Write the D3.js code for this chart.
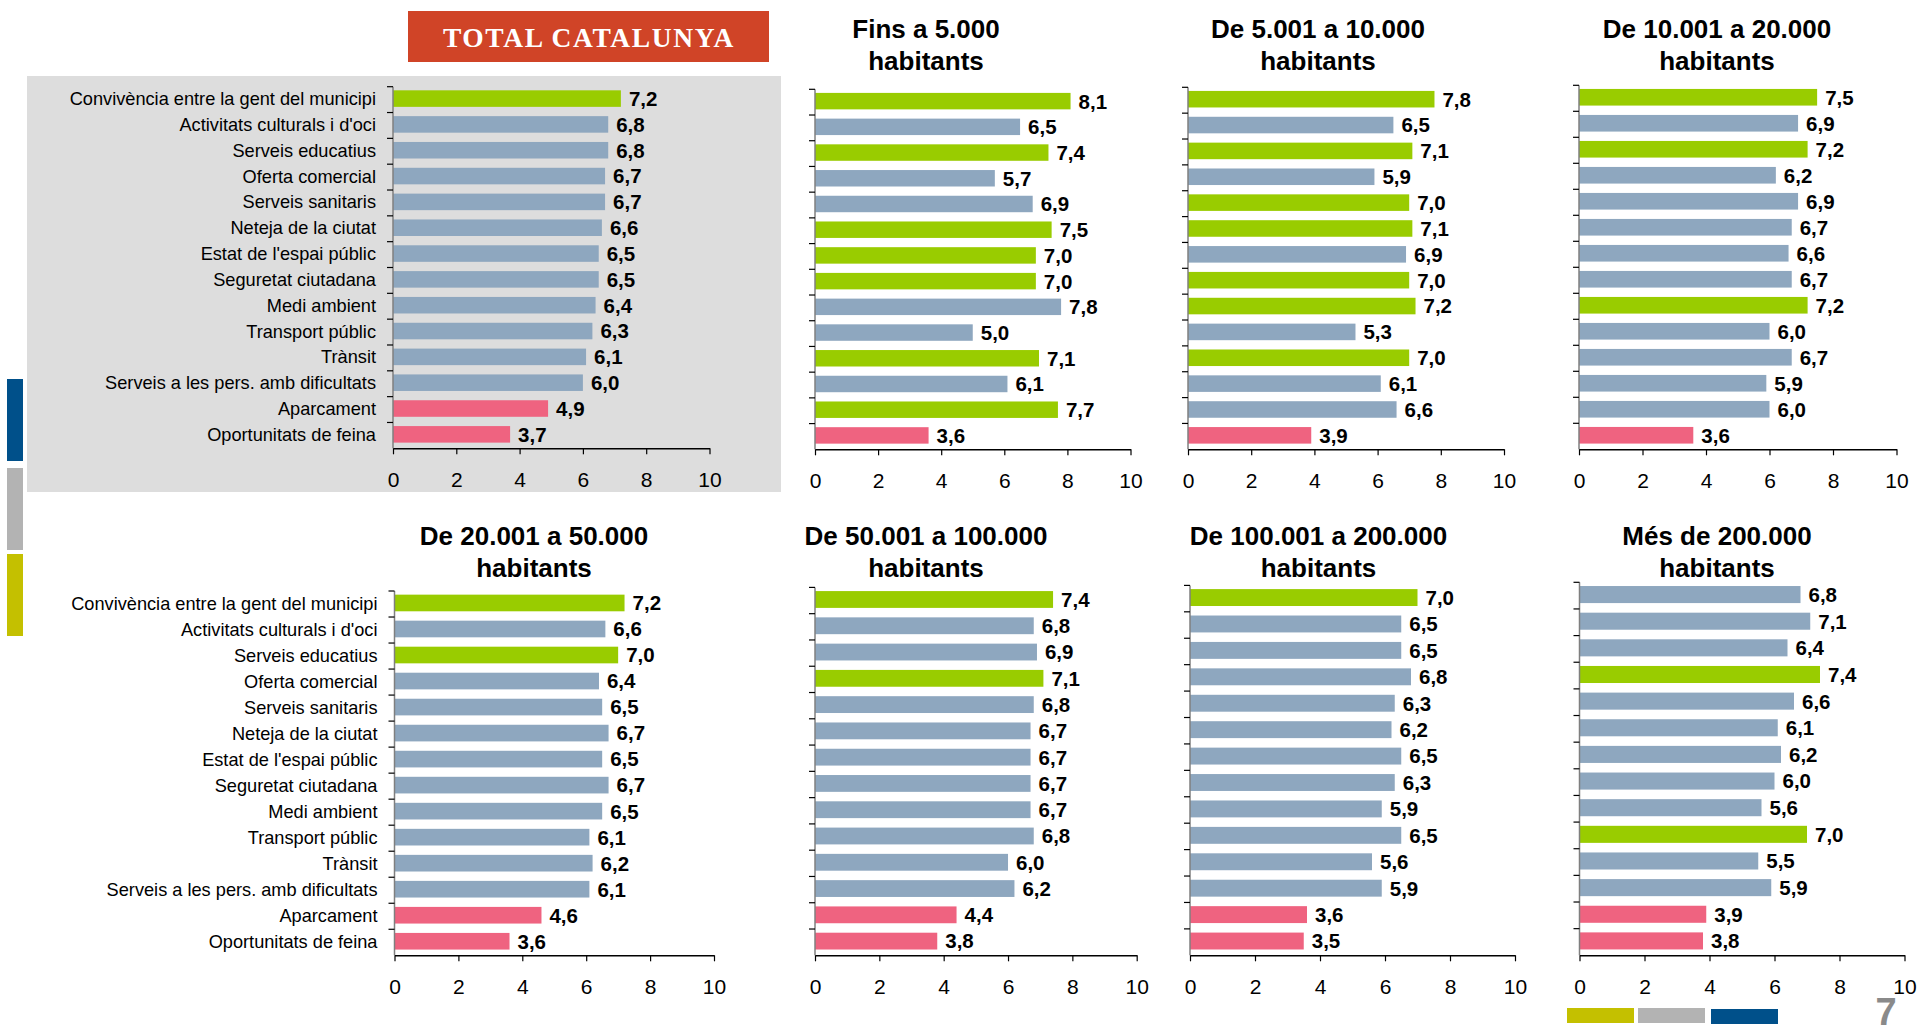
<!DOCTYPE html>
<html>
<head>
<meta charset="utf-8">
<script src="https://cdn.jsdelivr.net/npm/d3@7"></script>
<style>
  body { margin: 0; background: #fff; }
  svg { display: block; font-family: Arial, "Liberation Sans", sans-serif; }
</style>
</head>
<body>
<svg id="chart" width="1919" height="1026"></svg>
<script>
// categories, top to bottom
const categories = [
  "Convivència entre la gent del municipi",
  "Activitats culturals i d'oci",
  "Serveis educatius",
  "Oferta comercial",
  "Serveis sanitaris",
  "Neteja de la ciutat",
  "Estat de l'espai públic",
  "Seguretat ciutadana",
  "Medi ambient",
  "Transport públic",
  "Trànsit",
  "Serveis a les pers. amb dificultats",
  "Aparcament",
  "Oportunitats de feina"
];

const xTicks = [0, 2, 4, 6, 8, 10];

// values per panel
const totalCat  = [7.2, 6.8, 6.8, 6.7, 6.7, 6.6, 6.5, 6.5, 6.4, 6.3, 6.1, 6.0, 4.9, 3.7];
const fins5k    = [8.1, 6.5, 7.4, 5.7, 6.9, 7.5, 7.0, 7.0, 7.8, 5.0, 7.1, 6.1, 7.7, 3.6];
const de5a10k   = [7.8, 6.5, 7.1, 5.9, 7.0, 7.1, 6.9, 7.0, 7.2, 5.3, 7.0, 6.1, 6.6, 3.9];
const de10a20k  = [7.5, 6.9, 7.2, 6.2, 6.9, 6.7, 6.6, 6.7, 7.2, 6.0, 6.7, 5.9, 6.0, 3.6];
const de20a50k  = [7.2, 6.6, 7.0, 6.4, 6.5, 6.7, 6.5, 6.7, 6.5, 6.1, 6.2, 6.1, 4.6, 3.6];
const de50a100k = [7.4, 6.8, 6.9, 7.1, 6.8, 6.7, 6.7, 6.7, 6.7, 6.8, 6.0, 6.2, 4.4, 3.8];
const de100a200k= [7.0, 6.5, 6.5, 6.8, 6.3, 6.2, 6.5, 6.3, 5.9, 6.5, 5.6, 5.9, 3.6, 3.5];
const mes200k   = [6.8, 7.1, 6.4, 7.4, 6.6, 6.1, 6.2, 6.0, 5.6, 7.0, 5.5, 5.9, 3.9, 3.8];

// bar colour group per panel: g = high, b = middle, p = low
const totalCls   = "gbbbbbbbbbbbpp";
const fins5kCls  = "gbgbbgggbbgbgp";
const de5a10kCls = "gbgbggbggbgbbp";
const de10a20kCls= "gbgbbbbbgbbbbp";
const de20a50kCls= "gbgbbbbbbbbbpp";
const de50a100kCls="gbbgbbbbbbbbpp";
const de100a200kCls="gbbbbbbbbbbbpp";
const mes200kCls = "bbbgbbbbbgbbpp";

const titles = [
  null,
  ["Fins a 5.000", "habitants"],
  ["De 5.001 a 10.000", "habitants"],
  ["De 10.001 a 20.000", "habitants"],
  ["De 20.001 a 50.000", "habitants"],
  ["De 50.001 a 100.000", "habitants"],
  ["De 100.001 a 200.000", "habitants"],
  ["Més de 200.000", "habitants"]
];

const colors = { g: "#99cc00", b: "#8ea7bf", p: "#ef6380" };

// panel layout (pixel frames)
const layout = [
  { x0: 393,  x1: 709.5,  y0: 86.7, y1: 448.3, labels: true,  tx: 0,    ty: 0 },
  { x0: 815,  x1: 1130.5, y0: 89.3, y1: 449.3, labels: false, tx: 926,  ty: 37.5 },
  { x0: 1188, x1: 1504,   y0: 87.3, y1: 449.3, labels: false, tx: 1318, ty: 37.5 },
  { x0: 1579, x1: 1896.5, y0: 85.3, y1: 449.3, labels: false, tx: 1717, ty: 37.5 },
  { x0: 394.5,x1: 714,    y0: 591,  y1: 955.3, labels: true,  tx: 534,  ty: 545 },
  { x0: 815,  x1: 1136.7, y0: 587.4,y1: 955.3, labels: false, tx: 926,  ty: 545 },
  { x0: 1190, x1: 1515,   y0: 585.4,y1: 955.3, labels: false, tx: 1318.5, ty: 545 },
  { x0: 1579.5,x1: 1904.5,y0: 582.3,y1: 955.3, labels: false, tx: 1717, ty: 545 }
];

const series = [totalCat, fins5k, de5a10k, de10a20k, de20a50k, de50a100k, de100a200k, mes200k];
const classes = [totalCls, fins5kCls, de5a10kCls, de10a20kCls, de20a50kCls, de50a100kCls, de100a200kCls, mes200kCls];

const svg = d3.select("#chart");
const fmt = v => v.toFixed(1).replace(".", ",");

// grey box behind the total panel
svg.append("rect")
  .attr("x", 27).attr("y", 76).attr("width", 754).attr("height", 416)
  .attr("fill", "#dddddd");

// red title box
svg.append("rect")
  .attr("x", 408).attr("y", 11).attr("width", 361).attr("height", 51)
  .attr("fill", "#d04427");
svg.append("text")
  .attr("x", 589).attr("y", 46.5)
  .attr("text-anchor", "middle")
  .attr("font-family", "'Liberation Serif', 'Times New Roman', serif")
  .attr("font-weight", "bold")
  .attr("font-size", 27.5)
  .attr("letter-spacing", 1.6)
  .attr("fill", "#fff")
  .text("TOTAL CATALUNYA");

// left side decoration
[["#00508a", 379], ["#b3b3b3", 468], ["#c4c000", 554]].forEach(([c, y]) => {
  svg.append("rect").attr("x", 7).attr("y", y).attr("width", 16).attr("height", 82).attr("fill", c);
});
// bottom right decoration
[["#c4c000", 1567, 1008], ["#b3b3b3", 1638, 1008], ["#00508a", 1711, 1009]].forEach(([c, x, y]) => {
  svg.append("rect").attr("x", x).attr("y", y).attr("width", 67).attr("height", 15).attr("fill", c);
});
svg.append("text")
  .attr("x", 1886).attr("y", 1025)
  .attr("text-anchor", "middle")
  .attr("font-weight", "bold")
  .attr("font-size", 38)
  .attr("fill", "#8a8a8a")
  .text("7");

function drawPanel(i) {
  const L = layout[i];
  const values = series[i];
  const cls = classes[i];
  const g = svg.append("g");

  const x = d3.scaleLinear().domain([0, 10]).range([L.x0, L.x1]);
  const y = d3.scaleBand().domain(categories).range([L.y0, L.y1]).padding(0);
  const bw = y.bandwidth();

  if (titles[i]) {
    const t = g.append("text")
      .attr("text-anchor", "middle")
      .attr("font-weight", "bold")
      .attr("font-size", 26)
      .attr("fill", "#000");
    titles[i].forEach((line, k) => {
      t.append("tspan").attr("x", L.tx).attr("y", L.ty + k * 32).text(line);
    });
  }

  // bars
  g.selectAll("rect.bar")
    .data(values)
    .enter().append("rect")
    .attr("class", "bar")
    .attr("x", x(0))
    .attr("y", (d, k) => y(categories[k]) + bw * 0.14)
    .attr("width", d => x(d) - x(0))
    .attr("height", bw * 0.64)
    .attr("fill", (d, k) => colors[cls[k]]);

  // value labels
  g.selectAll("text.val")
    .data(values)
    .enter().append("text")
    .attr("class", "val")
    .attr("x", d => x(d) + 8)
    .attr("y", (d, k) => y(categories[k]) + bw * 0.46)
    .attr("dy", "0.36em")
    .attr("font-weight", "bold")
    .attr("font-size", 20.5)
    .attr("fill", "#000")
    .text(fmt);

  // category labels
  if (L.labels) {
    g.selectAll("text.cat")
      .data(categories)
      .enter().append("text")
      .attr("class", "cat")
      .attr("x", L.x0 - 17)
      .attr("y", d => y(d) + bw * 0.46)
      .attr("dy", "0.36em")
      .attr("text-anchor", "end")
      .attr("font-size", 18.2)
      .attr("fill", "#000")
      .text(d => d);
  }

  // y axis: line with ticks at band edges
  g.append("line")
    .attr("x1", x(0)).attr("x2", x(0))
    .attr("y1", L.y0).attr("y2", L.y1)
    .attr("stroke", "#7f7f7f").attr("stroke-width", 1.5);
  const edges = categories.map(c => y(c));
  g.selectAll("line.ytick")
    .data(edges)
    .enter().append("line")
    .attr("x1", x(0) - 6).attr("x2", x(0))
    .attr("y1", d => d).attr("y2", d => d)
    .attr("stroke", "#000").attr("stroke-width", 1.2);

  // x axis
  const xa = g.append("g")
    .attr("transform", `translate(0,${L.y1})`)
    .call(d3.axisBottom(x).tickValues(xTicks).tickSize(6).tickSizeOuter(0).tickPadding(18).tickFormat(d3.format("d")));
  xa.select(".domain").attr("stroke", "#000").attr("stroke-width", 1.5);
  xa.selectAll(".tick line").attr("stroke", "#000").attr("stroke-width", 1.2);
  xa.selectAll(".tick text")
    .attr("font-size", 21)
    .attr("font-family", "Arial, 'Liberation Sans', sans-serif")
    .attr("fill", "#000");
}

for (let i = 0; i < series.length; i++) drawPanel(i);
</script>
</body>
</html>
